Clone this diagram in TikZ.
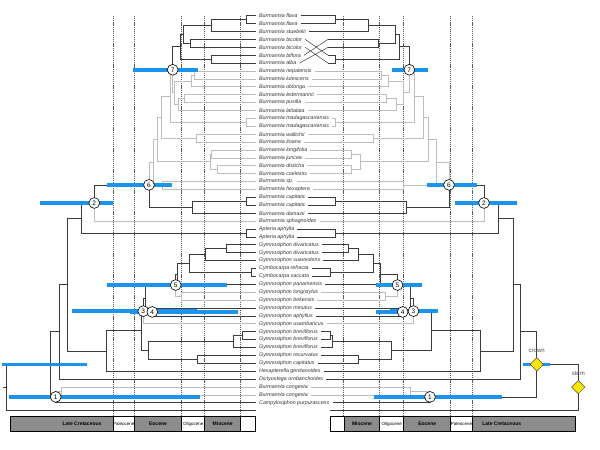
\documentclass[tikz,border=0pt]{standalone}
\usepackage{fontspec}
\usetikzlibrary{calc,shapes.geometric}
\newfontfamily\lsans{Liberation Sans}
\definecolor{dk}{HTML}{3C3C3C}
\definecolor{gy}{HTML}{BEBEBE}
\definecolor{blu}{HTML}{1A94EC}
\definecolor{tsg}{HTML}{8C8C8C}
\definecolor{yel}{HTML}{FFE800}
\newcommand\mk[4]{\path ($(#3)!0.5!(#4)$) coordinate (tmpc); \coordinate (#1) at (tmpc -| #2,0);}
\begin{document}
\begin{tikzpicture}[x=1pt,y=-1pt,
  taxon/.style={anchor=west,inner xsep=3pt,inner ysep=0pt,font=\lsans\itshape\fontsize{5.3}{6}\selectfont,text=black!80},
  dkl/.style={draw=dk,line width=0.75pt},
  gyl/.style={draw=gy,line width=0.75pt},
  bar/.style={draw=blu,line width=3.6pt},
  circ/.style={circle,draw=black,fill=white,line width=0.6pt,minimum size=10.8pt,inner sep=0pt,font=\lsans\fontsize{6.5}{7}\selectfont},
  dia/.style={diamond,draw=black!70,fill=yel,line width=0.5pt,minimum width=13.5pt,minimum height=13.5pt,inner sep=0pt},
  tl/.style={dash pattern=on 1.2pt off 0.9pt,draw=black!65,line width=0.5pt},
  seg/.style={draw=black,line width=0.5pt},
  era/.style={font=\lsans\bfseries\fontsize{5}{6}\selectfont},
  erasm/.style={font=\lsans\fontsize{4.5}{5}\selectfont},
  lab/.style={font=\lsans\fontsize{6}{7}\selectfont,text=black!70}]
\useasboundingbox (0,0) rectangle (600,450);
% time lines
\foreach \x in {113.3,134.3,181.5,204.5,240.7,343.5,379.7,403.5,450.5,472}
  \draw[tl] (\x,16) -- (\x,416.7);
% taxa
\foreach \s [count=\i from 0] in {Burmannia flava,Burmannia flava,Burmannia stuebelii,Burmannia bicolor,Burmannia bicolor,Burmannia biflora,Burmannia alba,Burmannia nepalensis,Burmannia lutescens,Burmannia oblonga,Burmannia ledermannii,Burmannia pusilla,Burmannia latialata,Burmannia madagascariensis,Burmannia madagascariensis,Burmannia wallichii,Burmannia itoana,Burmannia longifolia,Burmannia juncea,Burmannia disticha,Burmannia coelestis,Burmannia sp.,Burmannia hexaptera,Burmannia capitata,Burmannia capitata,Burmannia damazii,Burmannia sphagnoides,Apteria aphylla,Apteria aphylla,Gymnosiphon divaricatus,Gymnosiphon divaricatus,Gymnosiphon suaveolens,Cymbocarpa refracta,Cymbocarpa saccata,Gymnosiphon panamensis,Gymnosiphon longistylus,Gymnosiphon bekensis,Gymnosiphon minutus,Gymnosiphon aphyllus,Gymnosiphon usambaricus,Gymnosiphon breviflorus,Gymnosiphon breviflorus,Gymnosiphon breviflorus,Gymnosiphon recurvatus,Gymnosiphon capitatus,Hexapterella gentianoides,Dictyostega orobanchoides,Burmannia congesta,Burmannia congesta,Campylosiphon purpurascens}
  \node[taxon] (t\i) at (256,{15.7+7.9*\i}) {\s};
% ---------- left tree nodes
\mk{la}{246}{t0.west}{t1.west}
\mk{lb}{211.7}{la}{t2.west}
\mk{lc}{190.7}{t3.west}{t4.west}
\mk{lab}{183.3}{lb}{lc}
\mk{le}{211.7}{t5.west}{t6.west}
\mk{lf}{180}{lab}{le}
\mk{lh}{194}{t7.west}{t8.west}
\mk{li}{191.7}{lh}{t9.west}
\mk{lj}{184.7}{t10.west}{t11.west}
\mk{lk}{178}{lj}{t12.west}
\mk{lg}{174.3}{li}{lk}
\mk{lseven}{172.7}{lf}{lg}
\mk{lmad}{246}{t13.west}{t14.west}
\mk{lRm}{170.7}{lseven}{lmad}
\mk{lwi}{196.7}{t15.west}{t16.west}
\mk{lRn}{161.7}{lRm}{lwi}
\mk{llj}{211.7}{t17.west}{t18.west}
\mk{ldc}{217.3}{t19.west}{t20.west}
\mk{llc}{210}{llj}{ldc}
\mk{lRo}{157.3}{lRn}{llc}
\mk{lsh}{162.7}{t21.west}{t22.west}
\mk{lR}{153.3}{lRo}{lsh}
\mk{lcap}{246}{t23.west}{t24.west}
\mk{lcd}{192.3}{lcap}{t25.west}
\mk{lsix}{149}{lR}{lcd}
\mk{ltwo}{94.3}{lsix}{t26.west}
\mk{lapt}{246}{t27.west}{t28.west}
\mk{lW}{81.7}{ltwo}{lapt}
\mk{ldiv}{226.7}{t29.west}{t30.west}
\mk{lG2}{205}{ldiv}{t31.west}
\mk{lcym}{251}{t32.west}{t33.west}
\mk{lG3}{189.3}{lG2}{lcym}
\mk{lG4}{177.7}{lG3}{t34.west}
\mk{llb}{181.7}{t35.west}{t36.west}
\mk{lfive}{175.7}{lG4}{llb}
\mk{lfour}{152.3}{t37.west}{t38.west}
\mk{lX}{145.7}{lfive}{lfour}
\mk{lthree}{143.3}{lX}{t39.west}
\mk{lb12}{242}{t40.west}{t41.west}
\mk{lbrev}{233.3}{lb12}{t42.west}
\mk{lrc}{197.7}{t43.west}{t44.west}
\mk{lP}{148.3}{lbrev}{lrc}
\mk{lQ}{141.7}{lthree}{lP}
\mk{lY}{106.7}{lQ}{t45.west}
\mk{lZ}{67.7}{lW}{lY}
\mk{lX2}{59.3}{lZ}{t46.west}
\mk{lcong}{61.7}{t47.west}{t48.west}
\mk{lone}{55.7}{lcong}{t49.west}
\mk{lcrown}{50}{lX2}{lone}
\coordinate (lout) at (256,410);
\mk{lroot}{6.7}{lcrown}{lout}
\coordinate (lstub) at (lroot -| 3.3,0);
% ---------- right tree nodes
\coordinate (rp3) at (t3 -| 328,0);
\coordinate (rp4) at (t4 -| 328,0);
\coordinate (rp5) at (t5 -| 328,0);
\coordinate (rp6) at (t6 -| 328,0);
\mk{ra}{335}{t0.east}{t1.east}
\mk{rb}{368.3}{ra}{t2.east}
\mk{rc}{378.3}{rp3}{rp4}
\mk{rd}{395}{rb}{rc}
\mk{re}{335}{rp5}{rp6}
\mk{rf}{399.3}{rd}{re}
\mk{rh}{381}{t7.east}{t8.east}
\mk{ri}{388.3}{rh}{t9.east}
\mk{rj}{386.7}{t10.east}{t11.east}
\mk{rk}{396.7}{rj}{t12.east}
\mk{rg}{403.3}{ri}{rk}
\mk{rseven}{409.3}{rf}{rg}
\mk{rmad}{335}{t13.east}{t14.east}
\mk{rRm}{414}{rseven}{rmad}
\mk{rwi}{373.3}{t15.east}{t16.east}
\mk{rRn}{423.3}{rRm}{rwi}
\mk{rlj}{351.7}{t17.east}{t18.east}
\mk{rdc}{351.7}{t19.east}{t20.east}
\mk{rlc}{360}{rlj}{rdc}
\mk{rRo}{428.3}{rRn}{rlc}
\mk{rsh}{403.3}{t21.east}{t22.east}
\mk{rR}{436.7}{rRo}{rsh}
\mk{rcap}{335}{t23.east}{t24.east}
\mk{rcd}{406.7}{rcap}{t25.east}
\mk{rsix}{449}{rR}{rcd}
\mk{rtwo}{484}{rsix}{t26.east}
\mk{rapt}{335}{t27.east}{t28.east}
\mk{rW}{498.3}{rtwo}{rapt}
\mk{rdiv}{348.3}{t29.east}{t30.east}
\mk{rG2}{358.3}{rdiv}{t31.east}
\mk{rcym}{330}{t32.east}{t33.east}
\mk{rG3}{373.3}{rG2}{rcym}
\mk{rG4}{380}{rG3}{t34.east}
\mk{rlb}{385}{t35.east}{t36.east}
\mk{rfive}{397.5}{rG4}{rlb}
\mk{rfour}{402.7}{t37.east}{t38.east}
\mk{rX}{410}{rfive}{rfour}
\mk{rthree}{413.5}{rX}{t39.east}
\mk{rb12}{330}{t40.east}{t41.east}
\mk{rbrev}{332.5}{rb12}{t42.east}
\mk{rrc}{358.3}{t43.east}{t44.east}
\mk{rP}{391.7}{rbrev}{rrc}
\mk{rQ}{431.7}{rthree}{rP}
\mk{rY}{480.7}{rQ}{t45.east}
\mk{rZ}{513.3}{rW}{rY}
\mk{rX2}{520}{rZ}{t46.east}
\mk{rcong}{410}{t47.east}{t48.east}
\mk{rone}{430}{rcong}{t49.east}
\mk{rcrown}{536.7}{rX2}{rone}
\coordinate (rout) at (330,410);
\mk{rroot}{578.3}{rcrown}{rout}
% ---------- grey edges
\foreach \a/\b in {lseven/lg,lg/li,lg/lk,li/lh,li/t9.west,lh/t7.west,lh/t8.west,lk/lj,lk/t12.west,lj/t10.west,lj/t11.west,lRm/lseven,lRm/lmad,lmad/t13.west,lmad/t14.west,lRn/lRm,lRn/lwi,lwi/t15.west,lwi/t16.west,lRo/lRn,lRo/llc,llc/llj,llc/ldc,llj/t17.west,llj/t18.west,ldc/t19.west,ldc/t20.west,lR/lRo,lR/lsh,lsh/t21.west,lsh/t22.west,lsix/lR,ltwo/t26.west,lthree/t39.west,lfive/llb,llb/t35.west,llb/t36.west,lone/lcong,lcong/t47.west,lcong/t48.west,
rseven/rg,rg/ri,rg/rk,ri/rh,ri/t9.east,rh/t7.east,rh/t8.east,rk/rj,rk/t12.east,rj/t10.east,rj/t11.east,rRm/rseven,rRm/rmad,rmad/t13.east,rmad/t14.east,rRn/rRm,rRn/rwi,rwi/t15.east,rwi/t16.east,rRo/rRn,rRo/rlc,rlc/rlj,rlc/rdc,rlj/t17.east,rlj/t18.east,rdc/t19.east,rdc/t20.east,rR/rRo,rR/rsh,rsh/t21.east,rsh/t22.east,rsix/rR,rtwo/t26.east,rthree/t39.east,rfive/rlb,rlb/t35.east,rlb/t36.east,rone/rcong,rcong/t47.east,rcong/t48.east}
  \draw[gyl] (\a) |- (\b);
% ---------- dark edges
\foreach \a/\b in {la/t0.west,la/t1.west,lb/la,lb/t2.west,lc/t3.west,lc/t4.west,lab/lb,lab/lc,le/t5.west,le/t6.west,lf/lab,lf/le,lseven/lf,lsix/lcd,lcd/lcap,lcd/t25.west,lcap/t23.west,lcap/t24.west,ltwo/lsix,lW/ltwo,lW/lapt,lapt/t27.west,lapt/t28.west,lZ/lW,lZ/lY,lY/lQ,lY/t45.west,lX2/lZ,lX2/t46.west,lcrown/lX2,lcrown/lone,lone/t49.west,lroot/lcrown,lroot/lout,lQ/lthree,lQ/lP,lP/lbrev,lP/lrc,lbrev/lb12,lbrev/t42.west,lb12/t40.west,lb12/t41.west,lrc/t43.west,lrc/t44.west,lthree/lX,lX/lfive,lX/lfour,lfour/t37.west,lfour/t38.west,lfive/lG4,lG4/lG3,lG4/t34.west,lG3/lG2,lG3/lcym,lG2/ldiv,lG2/t31.west,ldiv/t29.west,ldiv/t30.west,lcym/t32.west,lcym/t33.west,
ra/t0.east,ra/t1.east,rb/ra,rb/t2.east,rc/rp3,rc/rp4,rd/rb,rd/rc,re/rp5,re/rp6,rf/rd,rf/re,rseven/rf,rsix/rcd,rcd/rcap,rcd/t25.east,rcap/t23.east,rcap/t24.east,rtwo/rsix,rW/rtwo,rW/rapt,rapt/t27.east,rapt/t28.east,rZ/rW,rZ/rY,rY/rQ,rY/t45.east,rX2/rZ,rX2/t46.east,rcrown/rX2,rcrown/rone,rone/t49.east,rroot/rcrown,rroot/rout,rQ/rthree,rQ/rP,rP/rbrev,rP/rrc,rbrev/rb12,rbrev/t42.east,rb12/t40.east,rb12/t41.east,rrc/t43.east,rrc/t44.east,rthree/rX,rX/rfive,rX/rfour,rfour/t37.east,rfour/t38.east,rfive/rG4,rG4/rG3,rG4/t34.east,rG3/rG2,rG3/rcym,rG2/rdiv,rG2/t31.east,rdiv/t29.east,rdiv/t30.east,rcym/t32.east,rcym/t33.east}
  \draw[dkl] (\a) |- (\b);
\draw[dkl] (lroot) -- (lstub);
\draw[dk,line width=0.5pt] (t5.east) -- (rp3) (t6.east) -- (rp4) (t3.east) -- (rp5) (t4.east) -- (rp6);
% ---------- age bars
\draw[bar] (lseven -| 133.3,0) -- (lseven -| 198.3,0);
\draw[bar] (lsix -| 106.7,0) -- (lsix -| 171.7,0);
\draw[bar] (ltwo -| 40,0) -- (ltwo -| 112.7,0);
\draw[bar] (lfive -| 106.7,0) -- (lfive -| 226.7,0);
\draw[bar] (lthree -| 71.7,0) -- (lthree -| 196.7,0);
\draw[bar] (lfour -| 130,0) -- (lfour -| 238.3,0);
\draw[bar] (lcrown -| 1.7,0) -- (lcrown -| 86.7,0);
\draw[bar] (lone -| 9.3,0) -- (lone -| 200,0);
\draw[bar] (rseven -| 391.7,0) -- (rseven -| 428.3,0);
\draw[bar] (rsix -| 426.7,0) -- (rsix -| 476.7,0);
\draw[bar] (rtwo -| 455,0) -- (rtwo -| 516.7,0);
\draw[bar] (rfive -| 376,0) -- (rfive -| 421.7,0);
\draw[bar] (rfour -| 376,0) -- (rfour -| 406.7,0);
\draw[bar] (rthree -| 390,0) -- (rthree -| 437.7,0);
\draw[bar] (rone -| 374,0) -- (rone -| 501.7,0);
\draw[bar] (rcrown -| 522.7,0) -- (rcrown -| 550,0);
% ---------- node labels
\node[circ] at (lseven) {7};
\node[circ] at (lsix) {6};
\node[circ] at (ltwo) {2};
\node[circ] at (lfive) {5};
\node[circ] at (lthree) {3};
\node[circ] at (lfour) {4};
\node[circ] at (lone) {1};
\node[circ] at (rseven) {7};
\node[circ] at (rsix) {6};
\node[circ] at (rtwo) {2};
\node[circ] at (rfive) {5};
\node[circ] at (rfour) {4};
\node[circ] at (rthree) {3};
\node[circ] at (rone) {1};
\node[dia] (crownd) at (rcrown) {};
\node[dia] (stemd) at (rroot) {};
\node[lab,anchor=south] at ($(crownd.north)+(0,-1)$) {crown};
\node[lab,anchor=south] at ($(stemd.north)+(0,-1)$) {stem};
% ---------- time scale
\foreach \a/\b/\c in {10.7/113.3/tsg,113.3/134.3/white,134.3/181.7/tsg,181.7/204.7/white,204.7/240.7/tsg,240.7/255/white,330.7/344.3/white,344.3/379.7/tsg,379.7/403.7/white,403.7/450.7/tsg,450.7/472.3/white,472.3/575/tsg}
  \draw[seg,fill=\c] (\a,416.7) rectangle (\b,431.7);
\node[era] at (82,424.2) {Late Cretaceous};
\node[erasm] at (123.8,424.2) {Paleocene};
\node[era] at (158,424.2) {Eocene};
\node[erasm] at (193.2,424.2) {Oligocene};
\node[era] at (222.7,424.2) {Miocene};
\node[era] at (362,424.2) {Miocene};
\node[erasm] at (391.7,424.2) {Oligocene};
\node[era] at (427.2,424.2) {Eocene};
\node[erasm] at (461.5,424.2) {Paleocene};
\node[era] at (501.7,424.2) {Late Cretaceous};
\end{tikzpicture}
\end{document}
